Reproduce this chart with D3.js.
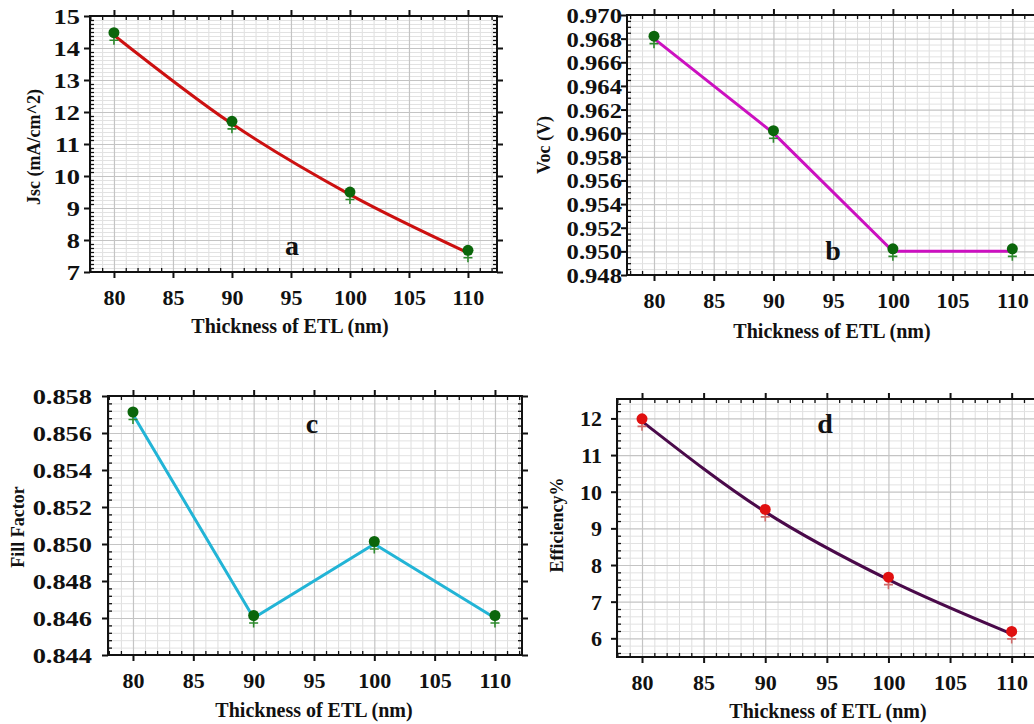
<!DOCTYPE html>
<html>
<head>
<meta charset="utf-8">
<script src="https://cdn.jsdelivr.net/npm/d3@7"></script>
<style>
  html, body { margin: 0; padding: 0; background: #fff; }
  svg { display: block; }
  text { font-family: "Liberation Serif", "Times New Roman", serif; font-weight: bold; fill: #111; }
</style>
</head>
<body>
<svg id="chart" width="1034" height="724"></svg>
<script>
// ---------------- data ----------------
const thickness = [80, 90, 100, 110];
const jscValues = [14.4, 11.63, 9.42, 7.6];
const vocValues = [0.968, 0.960, 0.950, 0.950];
const ffValues  = [0.857, 0.846, 0.850, 0.846];
const effValues = [11.92, 9.45, 7.6, 6.12];

const xTickValues   = [80, 85, 90, 95, 100, 105, 110];
const jscTickValues = [7, 8, 9, 10, 11, 12, 13, 14, 15];
const vocTickValues = [0.948, 0.950, 0.952, 0.954, 0.956, 0.958, 0.960, 0.962, 0.964, 0.966, 0.968, 0.970];
const ffTickValues  = [0.844, 0.846, 0.848, 0.850, 0.852, 0.854, 0.856, 0.858];
const effTickValues = [6, 7, 8, 9, 10, 11, 12];

const xTitle = "Thickness of ETL (nm)";
const yTitles = ["Jsc (mA/cm^2)", "Voc (V)", "Fill Factor", "Efficiency%"];
const panelLetters = ["a", "b", "c", "d"];

// ---------------- layout / style ----------------
const FONT = '"Liberation Serif", "Times New Roman", serif';
const panels = [
  { values: jscValues, ticks: jscTickValues, yDomain: [7, 15], yMinor: 0.125, yFmt: d3.format("d"),
    xDomain: [77.97, 112.46], frame: { l: 90, r: 497, t: 16, b: 272 },
    lineColor: "#cc1010", dotColor: "#0b660b", plusColor: "#2e8a2e", curve: d3.curveMonotoneX,
    yLabelGap: 10, yLabelStretch: 1.2, yTitlePos: [34, 147], xTitlePos: [290, 333], letterPos: [292, 255] },
  { values: vocValues, ticks: vocTickValues, yDomain: [0.948, 0.970], yMinor: 0.0005, yFmt: d3.format(".3f"),
    xDomain: [77.74, 112.4], frame: { l: 627, r: 1041, t: 15, b: 275 },
    lineColor: "#cc10c0", dotColor: "#0b660b", plusColor: "#2e8a2e", curve: d3.curveLinear,
    yLabelGap: 5, yLabelStretch: 1.12, yTitlePos: [544, 145], xTitlePos: [832, 338], letterPos: [833, 260] },
  { values: ffValues, ticks: ffTickValues, yDomain: [0.844, 0.858], yMinor: 0.0004, yFmt: d3.format(".3f"),
    xDomain: [77.93, 112.24], frame: { l: 108, r: 522, t: 396, b: 655 },
    lineColor: "#22b4d6", dotColor: "#0b660b", plusColor: "#2e8a2e", curve: d3.curveLinear,
    yLabelGap: 16, yLabelStretch: 1.2, yTitlePos: [18, 527], xTitlePos: [314, 717], letterPos: [312, 433] },
  { values: effValues, ticks: effTickValues, yDomain: [5.49, 12.53], yMinor: 0.2, yFmt: d3.format("d"),
    xDomain: [77.97, 112.3], frame: { l: 617, r: 1040, t: 399, b: 657 },
    lineColor: "#4a0a4a", dotColor: "#e01010", plusColor: "#d06a6a", curve: d3.curveMonotoneX,
    yLabelGap: 15, yLabelStretch: 1.0, yTitlePos: [557, 525], xTitlePos: [828, 718], letterPos: [825, 433] }
];

const svg = d3.select("#chart");

panels.forEach((p, i) => {
  const f = p.frame;
  const w = f.r - f.l, h = f.b - f.t;
  const x = d3.scaleLinear().domain(p.xDomain).range([f.l, f.r]);
  const y = d3.scaleLinear().domain(p.yDomain).range([f.b, f.t]);

  const g = svg.append("g");

  const clipId = "clip" + i;
  svg.append("clipPath").attr("id", clipId)
    .append("rect").attr("x", f.l).attr("y", f.t).attr("width", w).attr("height", h);

  const xMinor = d3.range(Math.ceil(p.xDomain[0]), Math.floor(p.xDomain[1]) + 1).filter(v => v % 5 !== 0);
  const yMinorAll = d3.range(
      Math.ceil(p.yDomain[0] / p.yMinor - 1e-6),
      Math.floor(p.yDomain[1] / p.yMinor + 1e-6) + 1)
    .map(k => +(k * p.yMinor).toFixed(6))
    .filter(v => !p.ticks.some(t => Math.abs(t - v) < 1e-7));

  // minor grid
  const gridMinor = g.append("g").attr("clip-path", `url(#${clipId})`);
  gridMinor.append("g").attr("transform", `translate(0,${f.b})`)
    .call(d3.axisBottom(x).tickValues(xMinor).tickSize(-h).tickFormat(""))
    .call(s => s.select(".domain").remove())
    .selectAll("line").attr("stroke", "#dedede").attr("stroke-width", 1);
  gridMinor.append("g").attr("transform", `translate(${f.l},0)`)
    .call(d3.axisLeft(y).tickValues(yMinorAll).tickSize(-w).tickFormat(""))
    .call(s => s.select(".domain").remove())
    .selectAll("line").attr("stroke", "#e2e2e2").attr("stroke-width", 1);

  // major grid
  const gridMajor = g.append("g").attr("clip-path", `url(#${clipId})`);
  gridMajor.append("g").attr("transform", `translate(0,${f.b})`)
    .call(d3.axisBottom(x).tickValues(xTickValues).tickSize(-h).tickFormat(""))
    .call(s => s.select(".domain").remove())
    .selectAll("line").attr("stroke", "#c4c4c4").attr("stroke-width", 1.2);
  gridMajor.append("g").attr("transform", `translate(${f.l},0)`)
    .call(d3.axisLeft(y).tickValues(p.ticks).tickSize(-w).tickFormat(""))
    .call(s => s.select(".domain").remove())
    .selectAll("line").attr("stroke", "#c4c4c4").attr("stroke-width", 1.2);

  const minorTick = 4;
  const styleTicks = (s, sw) => {
    s.select(".domain").remove();
    s.selectAll("line").attr("stroke", "#111").attr("stroke-width", sw);
    s.selectAll("text").remove();
  };
  g.append("g").attr("transform", `translate(0,${f.b})`)
    .call(d3.axisBottom(x).tickValues(xMinor).tickSize(-minorTick)).call(s => styleTicks(s, 1.3));
  g.append("g").attr("transform", `translate(0,${f.t})`)
    .call(d3.axisTop(x).tickValues(xMinor).tickSize(-minorTick)).call(s => styleTicks(s, 1.3));
  g.append("g").attr("transform", `translate(${f.l},0)`)
    .call(d3.axisLeft(y).tickValues(yMinorAll).tickSize(-minorTick)).call(s => styleTicks(s, 1.3));
  g.append("g").attr("transform", `translate(${f.r},0)`)
    .call(d3.axisRight(y).tickValues(yMinorAll).tickSize(-minorTick)).call(s => styleTicks(s, 1.3));

  const majorTick = 6;
  g.append("g").attr("transform", `translate(0,${f.t})`)
    .call(d3.axisTop(x).tickValues(xTickValues).tickSize(majorTick)).call(s => styleTicks(s, 2));
  g.append("g").attr("transform", `translate(${f.r},0)`)
    .call(d3.axisRight(y).tickValues(p.ticks).tickSize(majorTick)).call(s => styleTicks(s, 2));

  const bottomAxis = g.append("g").attr("transform", `translate(0,${f.b})`)
    .call(d3.axisBottom(x).tickValues(xTickValues).tickSize(majorTick).tickFormat(d3.format("d")))
    .attr("font-family", FONT).attr("font-size", 22);
  bottomAxis.select(".domain").remove();
  bottomAxis.selectAll("line").attr("stroke", "#111").attr("stroke-width", 2);
  bottomAxis.selectAll("text")
    .attr("y", 33).attr("dy", null)
    .attr("font-weight", "bold").attr("fill", "#111");

  const leftAxis = g.append("g").attr("transform", `translate(${f.l},0)`)
    .call(d3.axisLeft(y).tickValues(p.ticks).tickSize(majorTick).tickFormat(p.yFmt))
    .attr("font-family", FONT).attr("font-size", 22);
  leftAxis.select(".domain").remove();
  leftAxis.selectAll("line").attr("stroke", "#111").attr("stroke-width", 2);
  leftAxis.selectAll("text")
    .attr("x", 0).attr("dy", "0.34em")
    .attr("transform", `translate(${-p.yLabelGap},0) scale(${p.yLabelStretch},1)`)
    .attr("font-weight", "bold").attr("fill", "#111");

  g.append("rect").attr("x", f.l).attr("y", f.t).attr("width", w).attr("height", h)
    .attr("fill", "none").attr("stroke", "#111").attr("stroke-width", 2);

  const pts = thickness.map((t, k) => ({ x: t, y: p.values[k] }));
  const plot = g.append("g").attr("clip-path", `url(#${clipId})`);
  plot.append("path").datum(pts)
    .attr("d", d3.line().x(d => x(d.x)).y(d => y(d.y)).curve(p.curve))
    .attr("fill", "none").attr("stroke", p.lineColor).attr("stroke-width", 3);

  const plusSize = 4.5;
  plot.selectAll(".plus").data(pts).enter().append("path")
    .attr("class", "plus")
    .attr("transform", d => `translate(${x(d.x)},${y(d.y) + 5})`)
    .attr("d", `M${-plusSize},0H${plusSize}M0,${-plusSize}V${plusSize}`)
    .attr("stroke", p.plusColor).attr("stroke-width", 1.6).attr("fill", "none");

  g.selectAll(".dot").data(pts).enter().append("circle")
    .attr("class", "dot")
    .attr("cx", d => x(d.x)).attr("cy", d => y(d.y) - 2.5)
    .attr("r", 5.5).attr("fill", p.dotColor);

  svg.append("text")
    .attr("x", p.xTitlePos[0]).attr("y", p.xTitlePos[1])
    .attr("text-anchor", "middle").style("font-size", "20px")
    .text(xTitle);
  svg.append("text")
    .attr("transform", `translate(${p.yTitlePos[0]},${p.yTitlePos[1]}) rotate(-90)`)
    .attr("text-anchor", "middle").attr("dy", "0.35em").style("font-size", "18px")
    .text(yTitles[i]);
  svg.append("text")
    .attr("x", p.letterPos[0]).attr("y", p.letterPos[1])
    .attr("text-anchor", "middle").style("font-size", "28px")
    .text(panelLetters[i]);
});
</script>
</body>
</html>
